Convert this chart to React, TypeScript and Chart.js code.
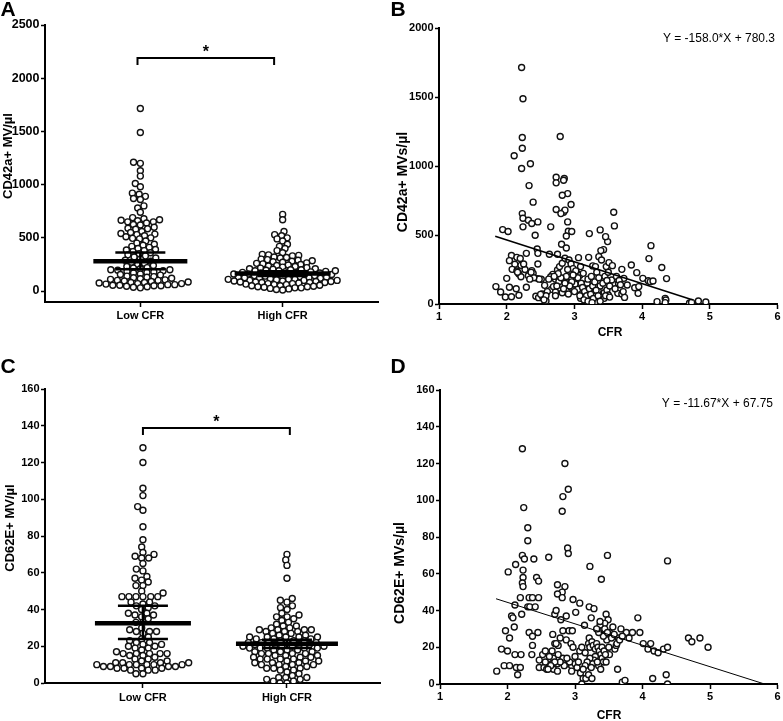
import React, { useEffect, useRef } from 'react';
import { Chart, registerables } from 'chart.js';
Chart.register(...registerables);

const FONT = "'Liberation Sans', Arial, Helvetica, sans-serif";

// ---------------- DATA ----------------
const groupLabels = ['Low CFR', 'High CFR'];
const groupPositions = [1, 2];

// Panel A: CD42a+ MV/µl by group
const cd42aLow = [1715, 1490, 1210, 1200, 1130, 1080, 1010, 980, 920, 910, 890, 870, 860, 800, 780, 740,
  690, 680, 670, 665, 660, 650, 650, 640, 625, 620, 600, 590, 585, 580, 560, 550, 540, 535, 530, 520, 510, 500,
  495, 490, 470, 450, 440, 430, 420, 410, 400, 390, 385, 380, 370, 360, 350, 340, 330, 320, 310, 300, 290, 280,
  270, 260, 250, 240, 230, 220, 215, 210, 200, 200, 195, 190, 185, 180, 175, 170, 160, 155, 150, 140, 135, 130,
  125, 120, 115, 110, 105, 100, 100, 95, 90, 85, 80, 80, 75, 70, 70, 65, 60, 60, 55, 55, 50, 50, 45, 40, 35, 30];
const cd42aHigh = [720, 670, 560, 530, 520, 500, 490, 470, 440, 420, 400, 380, 360, 345, 340, 335, 330, 320,
  315, 310, 300, 295, 290, 285, 280, 275, 270, 265, 260, 255, 250, 245, 240, 235, 230, 225, 220, 215, 210, 210,
  205, 200, 200, 195, 190, 190, 185, 180, 180, 175, 170, 170, 165, 160, 160, 155, 150, 150, 145, 140, 140, 135,
  130, 130, 125, 120, 120, 115, 110, 110, 105, 100, 100, 100, 95, 90, 90, 85, 80, 80, 80, 75, 70, 70, 65, 60,
  60, 55, 50, 50, 45, 40, 40, 35, 30, 30, 25, 20, 15, 10, 190, 175, 160, 145, 125, 110, 95, 85];
const cd42aMedian = [280, 165];
const cd42aQ1 = [205, 142];
const cd42aQ3 = [362, 187];
const cd42aTicks = [0, 500, 1000, 1500, 2000, 2500];

// Panel C: CD62E+ MV/µl by group
const cd62eLow = [128, 120, 106, 102, 96, 94, 85, 78, 74, 71, 70, 68, 68, 69, 65, 62, 61, 58, 57, 56, 55, 53,
  53, 50, 49, 47, 47, 47, 47, 47, 47, 44, 44, 43, 42, 42, 41, 40, 38, 38, 37, 37, 36, 35, 33, 33, 30, 29, 28,
  28, 28, 27, 25, 24, 23, 22, 22, 21, 21, 20, 20, 19, 19, 18, 17, 16, 16, 16, 16, 16, 15, 15, 14, 13, 13, 12,
  12, 11, 11, 11, 11, 10, 10, 10, 10, 10, 10, 9, 9, 9, 9, 8, 8, 8, 8, 7, 7, 7, 5, 5];
const cd62eHigh = [70, 67, 64, 57, 46, 45, 44, 42, 41, 40, 38, 37, 36, 36, 35, 34, 33, 32, 31, 31, 30, 30, 29,
  29, 29, 29, 28, 28, 28, 27, 27, 26, 26, 25, 25, 25, 25, 25, 24, 24, 24, 23, 23, 23, 22, 22, 22, 22, 22, 21,
  21, 21, 21, 20, 20, 20, 20, 19, 19, 19, 19, 19, 18, 18, 18, 17, 17, 17, 16, 16, 16, 16, 15, 15, 15, 14, 14,
  14, 13, 13, 13, 13, 12, 12, 12, 11, 11, 11, 10, 10, 10, 10, 9, 9, 8, 8, 8, 7, 7, 6, 5, 4, 3, 3, 3, 2, 2, 1,
  1, 0, 0];
const cd62eMedian = [32.5, 21.3];
const cd62eQ1 = [24, 19];
const cd62eQ3 = [42, 23.5];
const cd62eTicks = [0, 20, 40, 60, 80, 100, 120, 140, 160];

// Significance brackets [x1, x2, y]
const sigA = [0.98, 1.94, 2190];
const sigC = [1.0, 2.02, 138.8];

// Panel B: CD42a+ MVs/µl vs CFR  [CFR, value]
const cd42aVsCfr = [
  [2.22, 1714], [2.24, 1487], [2.23, 1207], [2.23, 1129], [2.22, 982], [2.11, 1074], [2.35, 1016], [2.79, 1214],
  [2.33, 858], [2.39, 738], [2.23, 655], [2.24, 621], [2.24, 559], [2.32, 607], [2.37, 583], [2.46, 595], [2.42, 498],
  [1.94, 539], [2.02, 525], [2.65, 559], [2.73, 919], [2.85, 909], [2.84, 897], [2.73, 878], [2.9, 800], [2.82, 788],
  [2.95, 721], [2.73, 685], [2.84, 665], [2.86, 680], [2.8, 655], [2.9, 595], [2.91, 527], [2.96, 525], [2.88, 493],
  [2.81, 433], [2.88, 406], [3.22, 510], [3.38, 537], [3.58, 665], [3.59, 566], [3.49, 452], [3.46, 488], [3.43, 394],
  [3.39, 387], [3.36, 343], [3.21, 338], [3.06, 336], [2.75, 360], [2.63, 360], [2.45, 399], [2.46, 367], [2.29, 367],
  [2.07, 351], [2.15, 338], [2.04, 314], [2.12, 288], [2.08, 251], [2.15, 239], [2.18, 218], [2.21, 198], [2.21, 280],
  [2.37, 242], [2.39, 222], [2.32, 205], [2.46, 290], [2.46, 184], [2.51, 179], [2.68, 215], [2.72, 179], [2.65, 198],
  [2.75, 247], [2.78, 271], [2.82, 295], [2.86, 331], [2.92, 319], [2.95, 290], [2.98, 256], [2.94, 198], [2.95, 174],
  [3.04, 222], [3.08, 208], [3.13, 222], [3.09, 271], [3.27, 276], [3.31, 271], [3.4, 319], [3.47, 271], [3.51, 300],
  [3.56, 278], [3.7, 251], [3.73, 186], [3.92, 227], [3.84, 283], [4.01, 186], [4.09, 169], [4.12, 162], [4.16, 167],
  [4.1, 329], [4.13, 423], [4.29, 264], [4.36, 184], [4.22, 17], [4.34, 41], [4.35, 29], [4.34, 10], [4.7, 7],
  [4.73, 12], [4.83, 22], [4.94, 15], [1.84, 126], [1.91, 87], [1.98, 51], [2.0, 186], [2.04, 121], [2.07, 53],
  [2.14, 111], [2.18, 63], [2.29, 121], [2.43, 56], [2.47, 46], [2.52, 73], [2.53, 53], [2.56, 135], [2.58, 22],
  [2.66, 106], [2.69, 126], [2.72, 87], [2.77, 162], [2.82, 82], [2.91, 73], [2.95, 121], [3.01, 145], [3.05, 106],
  [3.09, 41], [3.16, 101], [3.19, 150], [3.23, 89], [3.26, 29], [3.3, 58], [3.31, 17], [3.35, 97], [3.38, 131],
  [3.4, 58], [3.44, 82], [3.48, 101], [3.5, 65], [3.44, 41], [3.55, 174], [3.65, 150], [3.64, 77], [3.7, 73],
  [3.74, 48], [3.78, 138], [3.89, 118], [3.94, 77], [3.95, 126], [3.1, 150], [3.12, 120], [3.15, 90], [3.18, 60],
  [3.2, 180], [3.22, 110], [3.24, 70], [3.25, 200], [3.27, 130], [3.28, 40], [3.3, 160], [3.32, 100], [3.33, 230],
  [3.35, 60], [3.36, 190], [3.42, 150], [3.45, 200], [3.46, 60], [3.48, 170], [3.5, 230], [3.52, 130], [3.05, 190],
  [3.02, 240], [2.98, 210], [2.96, 160], [2.93, 130], [3.0, 90], [3.08, 60], [3.14, 30], [3.2, 20], [3.26, 10],
  [2.9, 250], [2.88, 200], [2.86, 150], [2.84, 110], [2.8, 190], [2.76, 220], [2.74, 130], [2.72, 60], [2.7, 200],
  [2.62, 180], [2.6, 90], [2.58, 60], [2.55, 30], [2.5, 70], [2.48, 180], [2.4, 190], [2.36, 230], [2.34, 180],
  [2.27, 250], [2.25, 290], [2.2, 330], [2.16, 230], [3.62, 200], [3.66, 170], [3.68, 140], [3.72, 90], [3.6, 110],
  [3.52, 50], [3.38, 20],
];
const cd42aFit = [-158.0, 780.3]; // slope, intercept
const cd42aFitRange = [1.83, 4.75];
const cd42aScatterTicks = [0, 500, 1000, 1500, 2000];
const cfrTicks = [1, 2, 3, 4, 5, 6];

// Panel D: CD62E+ MVs/µl vs CFR  [CFR, value]
const cd62eVsCfr = [
  [2.22, 128], [2.85, 120], [2.9, 106], [2.82, 102], [2.81, 94], [2.24, 96], [2.3, 85], [2.3, 78], [2.89, 74],
  [2.9, 71], [2.61, 69], [2.39, 68], [2.22, 70], [2.25, 68], [2.12, 65], [2.01, 61], [2.23, 62], [2.23, 58],
  [2.22, 55], [2.23, 53], [2.43, 58], [2.46, 56], [3.48, 70], [3.22, 64], [3.39, 57], [4.37, 67], [2.74, 54],
  [2.85, 53], [2.81, 50], [2.74, 49], [2.81, 47], [2.97, 46], [3.07, 44], [2.19, 47], [2.32, 47], [2.37, 47],
  [2.46, 47], [2.11, 43], [2.3, 42], [2.33, 42], [2.41, 42], [2.21, 38], [2.06, 37], [2.08, 36], [2.1, 31],
  [1.97, 29], [2.03, 25], [2.32, 28], [2.37, 26], [2.45, 28], [2.37, 21], [2.36, 16], [1.91, 19], [2.0, 18],
  [2.11, 16], [2.2, 16], [1.84, 7], [1.95, 10], [2.03, 10], [2.13, 9], [2.19, 9], [2.15, 5], [2.47, 13],
  [2.52, 16], [2.56, 18], [2.47, 9], [2.54, 9], [2.58, 8], [2.66, 11], [2.68, 8], [2.74, 7], [2.74, 11],
  [2.82, 14], [2.67, 27], [2.7, 22], [2.75, 21], [2.66, 18], [2.68, 14], [2.7, 38], [2.72, 40], [2.87, 37],
  [2.79, 35], [2.87, 24], [2.91, 29], [2.96, 29], [2.94, 22], [2.97, 20], [3.07, 18], [2.9, 11], [2.95, 10],
  [2.95, 7], [3.0, 11], [3.03, 9], [3.08, 6], [3.12, 3], [3.16, 3], [3.1, 0], [3.01, 39], [3.14, 32], [3.21, 42],
  [3.28, 41], [3.24, 36], [3.21, 25], [3.51, 16], [3.46, 38], [3.49, 35], [3.44, 33], [3.37, 32], [3.4, 29],
  [3.44, 27], [3.51, 28], [3.56, 31], [3.68, 30], [3.76, 28], [3.64, 25], [3.59, 19], [3.61, 21], [3.8, 25],
  [3.85, 28], [3.93, 36], [3.96, 28], [4.01, 22], [4.12, 22], [4.08, 19], [4.17, 18], [4.23, 17], [4.31, 19],
  [4.37, 20], [4.68, 25], [4.73, 23], [4.85, 25], [4.97, 20], [3.63, 8], [3.7, 1], [3.74, 2], [4.15, 3],
  [4.35, 5], [4.37, 0], [3.2, 22], [3.22, 20], [3.25, 23], [3.27, 21], [3.3, 19], [3.32, 22], [3.34, 20],
  [3.36, 18], [3.38, 16], [3.4, 14], [3.42, 12], [3.3, 15], [3.28, 13], [3.26, 11], [3.24, 9], [3.22, 14],
  [3.18, 12], [3.15, 10], [3.12, 8], [3.35, 10], [3.38, 8], [3.4, 20], [3.43, 18], [3.45, 16], [3.47, 24],
  [3.42, 26], [3.35, 28], [3.32, 30], [3.37, 34], [3.44, 30], [3.48, 28], [3.5, 20], [3.46, 12], [3.33, 12],
  [3.2, 5], [3.25, 3], [3.15, 17], [3.1, 20], [3.05, 12], [3.0, 15], [2.92, 12], [2.88, 14], [2.84, 10],
  [2.78, 12], [2.75, 16], [2.7, 12], [2.64, 10], [2.6, 8], [2.56, 12], [2.62, 15], [2.72, 22], [2.78, 25],
  [2.82, 29], [3.54, 25], [3.58, 27], [3.62, 22], [3.66, 24], [3.7, 26],
];
const cd62eFit = [-11.67, 67.75];
const cd62eFitRange = [1.83, 5.8];

// ---------------- HELPERS ----------------
type Area = { w: number; h: number; left: number; top: number; right: number; bottom: number };

// beeswarm layout: spacing sx horizontally, sy vertically (elliptical exclusion)
function swarmOffsets(values: number[], yPx: number, xPx: number, sx: number, sy: number): number[] {
  const order = values.map((_, i) => i).sort((a, b) => values[a] - values[b]);
  const placed: { x: number; y: number }[] = [];
  const out = new Array(values.length).fill(0);
  for (const i of order) {
    const y = values[i] * yPx;
    const iv: [number, number][] = [];
    for (const p of placed) {
      const dy = Math.abs(p.y - y);
      if (dy < sy) {
        const w = sx * Math.sqrt(1 - (dy / sy) * (dy / sy));
        iv.push([p.x - w, p.x + w]);
      }
    }
    const cands = [0];
    iv.forEach(([a, b]) => cands.push(a, b));
    cands.sort((a, b) => Math.abs(a) - Math.abs(b) || a - b);
    let best = 0;
    for (const c of cands) {
      if (iv.every(([a, b]) => c <= a + 1e-6 || c >= b - 1e-6)) { best = c; break; }
    }
    placed.push({ x: best, y });
    out[i] = best / xPx;
  }
  return out;
}

const textPlugin = {
  id: 'texts',
  afterDraw(chart: any, _a: any, opts: any) {
    const ctx = chart.ctx;
    for (const t of opts.items || []) {
      ctx.save();
      ctx.font = t.font;
      ctx.fillStyle = '#000';
      ctx.textAlign = t.align || 'center';
      ctx.textBaseline = 'middle';
      ctx.translate(t.x, t.y);
      if (t.rotate) ctx.rotate(t.rotate);
      ctx.fillText(t.text, 0, 0);
      ctx.restore();
    }
  },
};

const summaryPlugin = {
  id: 'summary',
  afterDatasetsDraw(chart: any, _a: any, opts: any) {
    if (!opts.groups) return;
    const { ctx } = chart;
    const x = chart.scales.x;
    const y = chart.scales.y;
    ctx.save();
    ctx.strokeStyle = '#000';
    ctx.lineCap = 'butt';
    const seg = (x1: number, y1: number, x2: number, y2: number) => {
      ctx.beginPath(); ctx.moveTo(x1, y1); ctx.lineTo(x2, y2); ctx.stroke();
    };
    for (const g of opts.groups) {
      const cx = x.getPixelForValue(g.pos);
      const ym = y.getPixelForValue(g.median);
      const y1 = y.getPixelForValue(g.q1);
      const y3 = y.getPixelForValue(g.q3);
      ctx.lineWidth = 2.5;
      seg(cx, y1, cx, y3);
      seg(cx - g.cw, y1, cx + g.cw, y1);
      seg(cx - g.cw, y3, cx + g.cw, y3);
      ctx.lineWidth = 4.5;
      seg(cx - g.mw, ym, cx + g.mw, ym);
    }
    const b = opts.bracket;
    const bx1 = x.getPixelForValue(b[0]);
    const bx2 = x.getPixelForValue(b[1]);
    const by = y.getPixelForValue(b[2]);
    ctx.lineWidth = 2;
    ctx.beginPath();
    ctx.moveTo(bx1, by + 7); ctx.lineTo(bx1, by); ctx.lineTo(bx2, by); ctx.lineTo(bx2, by + 7);
    ctx.stroke();
    ctx.fillStyle = '#000';
    ctx.font = `bold 16px ${FONT}`;
    ctx.textAlign = 'center';
    ctx.textBaseline = 'alphabetic';
    ctx.fillText('*', (bx1 + bx2) / 2, by - 1);
    ctx.restore();
  },
};

function axisStyle(tickLength: number, padding: number, fontSize: number) {
  return {
    grid: { display: true, drawOnChartArea: false, drawTicks: true, tickLength, tickWidth: 1.5, tickColor: '#000', color: '#000' },
    border: { display: true, color: '#000', width: 2 },
    ticks: {
      color: '#000', padding, autoSkip: false, maxRotation: 0,
      font: { family: FONT, size: fontSize, weight: 'bold' as const },
      callback: (v: number) => String(v),
    },
  };
}

function baseOptions(a: Area, xScale: any, yScale: any, plugins: any) {
  return {
    responsive: false,
    animation: false as const,
    devicePixelRatio: 1,
    events: [],
    layout: { padding: { left: 0, top: a.top, right: a.w - a.right, bottom: 0 } },
    scales: {
      x: {
        ...xScale,
        afterFit: (s: any) => { s.height = a.h - a.bottom; s.paddingLeft = 0; s.paddingRight = 0; },
      },
      y: {
        ...yScale,
        afterFit: (s: any) => { s.width = a.left; s.paddingTop = 0; s.paddingBottom = 0; },
      },
    },
    plugins: { legend: { display: false }, tooltip: { enabled: false }, ...plugins },
  };
}

const pointStyle = {
  pointRadius: 3,
  pointBorderWidth: 1.4,
  pointBackgroundColor: '#fff',
  pointBorderColor: '#111',
};

function swarmChart(canvas: HTMLCanvasElement, a: Area, opt: any) {
  const { low, high, yMin, yMax, xMin, xMax, ticks, median, q1, q3, bracket, texts, tickFont, labelPad, medW, capW, sx, sy } = opt;
  const yPx = (a.bottom - a.top) / (yMax - yMin);
  const xPx = (a.right - a.left) / (xMax - xMin);
  const groups = [low, high];
  const datasets = groups.map((vals: number[], gi: number) => {
    const off = swarmOffsets(vals, yPx, xPx, sx[gi], sy);
    return {
      data: vals.map((v, i) => ({ x: groupPositions[gi] + off[i], y: v })),
      ...pointStyle,
    };
  });
  const xAxis = axisStyle(5, labelPad, 11);
  const xScale = {
    type: 'linear', min: xMin, max: xMax,
    afterBuildTicks: (s: any) => { s.ticks = groupPositions.map((v) => ({ value: v })); },
    ...xAxis,
    ticks: { ...xAxis.ticks, callback: (v: number) => groupLabels[groupPositions.indexOf(v)] ?? '' },
  };
  const yScale = {
    type: 'linear', min: yMin, max: yMax,
    afterBuildTicks: (s: any) => { s.ticks = ticks.map((v: number) => ({ value: v })); },
    ...axisStyle(4, 1.5, tickFont),
  };
  return new Chart(canvas, {
    type: 'scatter',
    data: { datasets },
    options: baseOptions(a, xScale, yScale, {
      texts: { items: texts },
      summary: {
        groups: groupPositions.map((p, i) => ({ pos: p, median: median[i], q1: q1[i], q3: q3[i], mw: medW[i], cw: capW[i] })),
        bracket,
      },
    }) as any,
    plugins: [summaryPlugin, textPlugin],
  });
}

function scatterChart(canvas: HTMLCanvasElement, a: Area, opt: any) {
  const { pairs, fit, fitRange, yMax, ticks, texts, fitWidth } = opt;
  const xScale = {
    type: 'linear', min: 1, max: 6,
    afterBuildTicks: (s: any) => { s.ticks = cfrTicks.map((v) => ({ value: v })); },
    ...axisStyle(5, 1.5, 11),
  };
  const yScale = {
    type: 'linear', min: 0, max: yMax,
    afterBuildTicks: (s: any) => { s.ticks = ticks.map((v: number) => ({ value: v })); },
    ...axisStyle(4, 1.5, 11),
  };
  return new Chart(canvas, {
    type: 'scatter',
    data: {
      datasets: [
        {
          data: fitRange.map((x: number) => ({ x, y: fit[0] * x + fit[1] })),
          showLine: true,
          borderColor: '#000',
          borderWidth: fitWidth,
          pointRadius: 0,
        },
        { data: pairs.map(([x, y]: number[]) => ({ x, y })), ...pointStyle },
      ],
    },
    options: baseOptions(a, xScale, yScale, { texts: { items: texts } }) as any,
    plugins: [textPlugin],
  });
}

const letterFont = `bold 21px ${FONT}`;
const rot = -Math.PI / 2;

const areaA: Area = { w: 390, h: 330, left: 45, top: 25, right: 378, bottom: 302 };
const areaB: Area = { w: 393, h: 345, left: 49, top: 28, right: 391, bottom: 304 };
const areaC: Area = { w: 390, h: 381, left: 45, top: 49, right: 380, bottom: 343 };
const areaD: Area = { w: 393, h: 381, left: 50, top: 50, right: 388, bottom: 344 };

export default function App() {
  const refA = useRef<HTMLCanvasElement>(null);
  const refB = useRef<HTMLCanvasElement>(null);
  const refC = useRef<HTMLCanvasElement>(null);
  const refD = useRef<HTMLCanvasElement>(null);

  useEffect(() => {
    const charts: Chart[] = [];
    charts.push(swarmChart(refA.current!, areaA, {
      low: cd42aLow, high: cd42aHigh, yMin: -103, yMax: 2500, xMin: 0.33, xMax: 2.67, ticks: cd42aTicks,
      median: cd42aMedian, q1: cd42aQ1, q3: cd42aQ3, bracket: sigA, tickFont: 12.5, labelPad: 2,
      medW: [47, 48], capW: [25, 25], sx: [7, 6.3], sy: 4.6,
      texts: [
        { text: 'A', x: 8, y: 10, font: letterFont },
        { text: 'CD42a+ MV/µl', x: 8, y: 156, font: `bold 13px ${FONT}`, rotate: rot },
      ],
    }));
    charts.push(scatterChart(refB.current!, areaB, {
      pairs: cd42aVsCfr, fit: cd42aFit, fitRange: cd42aFitRange, yMax: 2000, ticks: cd42aScatterTicks, fitWidth: 1.6,
      texts: [
        { text: 'B', x: 8, y: 10, font: letterFont },
        { text: 'CD42a+ MVs/µl', x: 13, y: 182, font: `bold 14px ${FONT}`, rotate: rot },
        { text: 'Y = -158.0*X + 780.3', x: 385, y: 39, font: `12px ${FONT}`, align: 'right' },
        { text: 'CFR', x: 220, y: 333, font: `bold 12px ${FONT}` },
      ],
    }));
    charts.push(swarmChart(refC.current!, areaC, {
      low: cd62eLow, high: cd62eHigh, yMin: 0, yMax: 160, xMin: 0.32, xMax: 2.646, ticks: cd62eTicks,
      median: cd62eMedian, q1: cd62eQ1, q3: cd62eQ3, bracket: sigC, tickFont: 11, labelPad: 3,
      medW: [48, 51], capW: [25, 25], sx: [7, 7], sy: 5.6,
      texts: [
        { text: 'C', x: 8, y: 27, font: letterFont },
        { text: 'CD62E+ MV/µl', x: 10, y: 188, font: `bold 13px ${FONT}`, rotate: rot },
      ],
    }));
    charts.push(scatterChart(refD.current!, areaD, {
      pairs: cd62eVsCfr, fit: cd62eFit, fitRange: cd62eFitRange, yMax: 160, ticks: cd62eTicks, fitWidth: 1,
      texts: [
        { text: 'D', x: 8, y: 27, font: letterFont },
        { text: 'CD62E+ MVs/µl', x: 10, y: 233, font: `bold 14px ${FONT}`, rotate: rot },
        { text: 'Y = -11.67*X + 67.75', x: 383, y: 64, font: `12px ${FONT}`, align: 'right' },
        { text: 'CFR', x: 219, y: 376, font: `bold 12px ${FONT}` },
      ],
    }));
    return () => charts.forEach((c) => c.destroy());
  }, []);

  const pos = (l: number, t: number): React.CSSProperties => ({ position: 'absolute', left: l, top: t });
  return (
    <div style={{ position: 'absolute', left: 0, top: 0, width: 783, height: 721, background: '#fff', overflow: 'hidden' }}>
      <canvas ref={refA} width={areaA.w} height={areaA.h} style={pos(0, 0)} />
      <canvas ref={refB} width={areaB.w} height={areaB.h} style={pos(390, 0)} />
      <canvas ref={refC} width={areaC.w} height={areaC.h} style={pos(0, 340)} />
      <canvas ref={refD} width={areaD.w} height={areaD.h} style={pos(390, 340)} />
    </div>
  );
}
